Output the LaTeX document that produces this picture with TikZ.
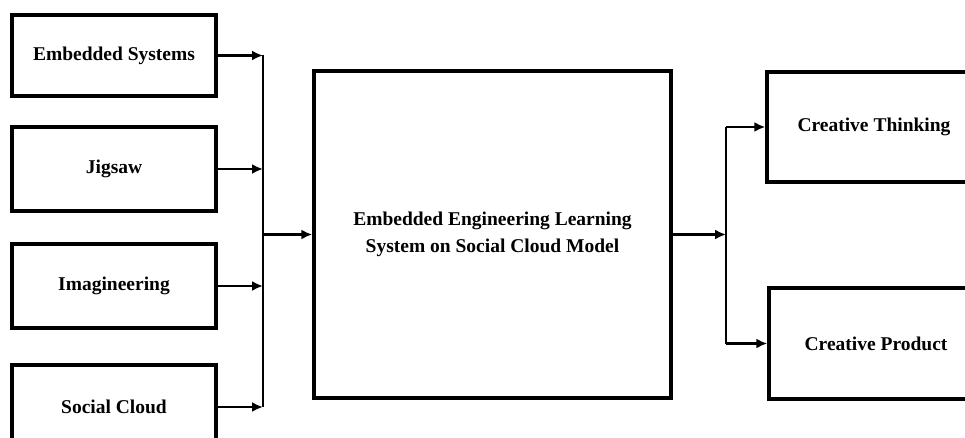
\documentclass[tikz,border=0pt]{standalone}
\usepackage{fontspec}
\setmainfont{Liberation Serif}
\usepackage{tikz}
\usetikzlibrary{arrows.meta}

\tikzset{
    block/.style={draw, rectangle, line width=3.4pt, align=center, font=\bfseries\fontsize{19.5}{27}\selectfont},
    link/.style={line width=2.2pt},
    >={Latex[length=11pt,width=10pt]}
}

\begin{document}
\begin{tikzpicture}[x=1pt, y=-1pt]
    \useasboundingbox (0,0) rectangle (965,438);
    \clip (0,0) rectangle (965,438);

    % Inputs
    \node[block, minimum width=204pt, minimum height=81pt] (embsys) at (114, 55.5) {Embedded Systems};
    \node[block, minimum width=204pt, minimum height=84pt] (jigsaw) at (114, 169) {Jigsaw};
    \node[block, minimum width=204pt, minimum height=84pt] (imag) at (114, 286) {Imagineering};
    \node[block, minimum width=204pt, minimum height=84pt] (social) at (114, 407) {Social Cloud};

    % Model
    \node[block, minimum width=357pt, minimum height=327pt] (model) at (492.5, 234.5)
        {Embedded Engineering Learning \\ System on Social Cloud Model};

    % Outputs
    \node[block, minimum width=214pt, minimum height=110pt] (thinking) at (874, 127) {Creative Thinking};
    \node[block, minimum width=214pt, minimum height=111pt] (product) at (876, 343.5) {Creative Product};

    % Bus lines
    \coordinate (busin) at (263, 0);
    \coordinate (busout) at (726, 0);

    % Arrows
    \draw[link, ->] (embsys) -- (embsys -| busin);
    \draw[link, ->] (jigsaw) -- (jigsaw -| busin);
    \draw[link, ->] (imag) -- (imag -| busin);
    \draw[link, ->] (social) -- (social -| busin);
    \draw[link] (embsys -| busin) -- (social -| busin);
    \draw[link, ->] (busin |- model.west) -- (model.west);

    \draw[link, ->] (model.east) -- (busout |- model.east);
    \draw[link] (busout |- thinking) -- (busout |- product);
    \draw[link, ->] (busout |- thinking) -- (thinking.west);
    \draw[link, ->] (busout |- product) -- (product.west);

\end{tikzpicture}
\end{document}
